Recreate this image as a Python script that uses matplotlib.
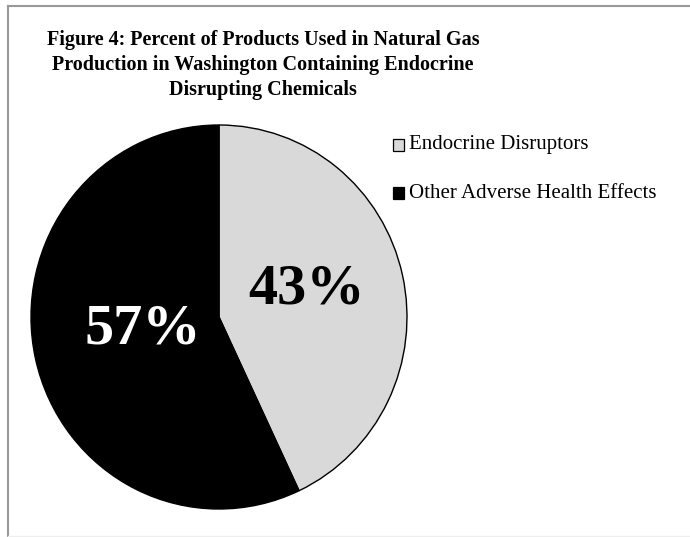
import matplotlib
matplotlib.use("Agg")
import matplotlib.pyplot as plt
from matplotlib.lines import Line2D
from matplotlib.patches import Rectangle

categories = ["Endocrine Disruptors", "Other Adverse Health Effects"]
values = [43, 57]
labels = ["43%", "57%"]
colors = ["#d9d9d9", "#000000"]
label_colors = ["black", "white"]

W, H = 690, 537
fig = plt.figure(figsize=(W / 100, H / 100), dpi=100)
fig.patch.set_facecolor("white")

def fx(x):
    return x / W

def fy(y):
    return 1 - y / H

# outer frame: top and left gray lines, faint bottom
fig.add_artist(Line2D([fx(7.5), fx(7.5)], [fy(5.5), fy(537)], transform=fig.transFigure,
                      color="#999999", linewidth=1.5))
fig.add_artist(Line2D([fx(7.5), fx(700)], [fy(5.5), fy(5.5)], transform=fig.transFigure,
                      color="#999999", linewidth=1.5))
fig.add_artist(Line2D([fx(7.5), fx(700)], [fy(536), fy(536)], transform=fig.transFigure,
                      color="#eeeeee", linewidth=1.0))

# pie axes (center ~ (219,317), rx ~188, ry ~192)
cx, cy, rx, ry = 219, 317, 188, 192
ax = fig.add_axes([(cx - rx) / W, 1 - (cy + ry) / H, 2 * rx / W, 2 * ry / H])
wedges, _ = ax.pie(values, colors=colors, startangle=90, counterclock=False,
                   radius=1.0, wedgeprops=dict(edgecolor="black", linewidth=1.0))
ax.set_aspect("auto")
ax.set_xlim(-1, 1)
ax.set_ylim(-1, 1)
ax.axis("off")

# percentage labels (positions in axes data coords)
label_pos = [((307 - cx) / rx, (cy - 290) / ry), ((143 - cx) / rx, (cy - 330) / ry)]
for (x, y), t, c in zip(label_pos, labels, label_colors):
    ax.text(x, y, t, ha="center", va="center", color=c, fontsize=42,
            fontweight="bold", family="Liberation Serif")

fig.text(fx(263), fy(65),
         "Figure 4: Percent of Products Used in Natural Gas\n"
         "Production in Washington Containing Endocrine\n"
         "Disrupting Chemicals",
         ha="center", va="center", multialignment="center", fontsize=14.5,
         fontweight="bold", family="Liberation Serif", linespacing=1.3)

# legend
leg_y = [145, 193]
for y, name, col in zip(leg_y, categories, colors):
    fig.add_artist(Rectangle((fx(393), fy(y + 5.5)), 11 / W, 11 / H,
                             transform=fig.transFigure, facecolor=col,
                             edgecolor="black", linewidth=0.9))
    fig.text(fx(409), fy(y), name, ha="left", va="center",
             fontsize=15, family="Liberation Serif")

fig.savefig("out.png", dpi=100, facecolor="white")
